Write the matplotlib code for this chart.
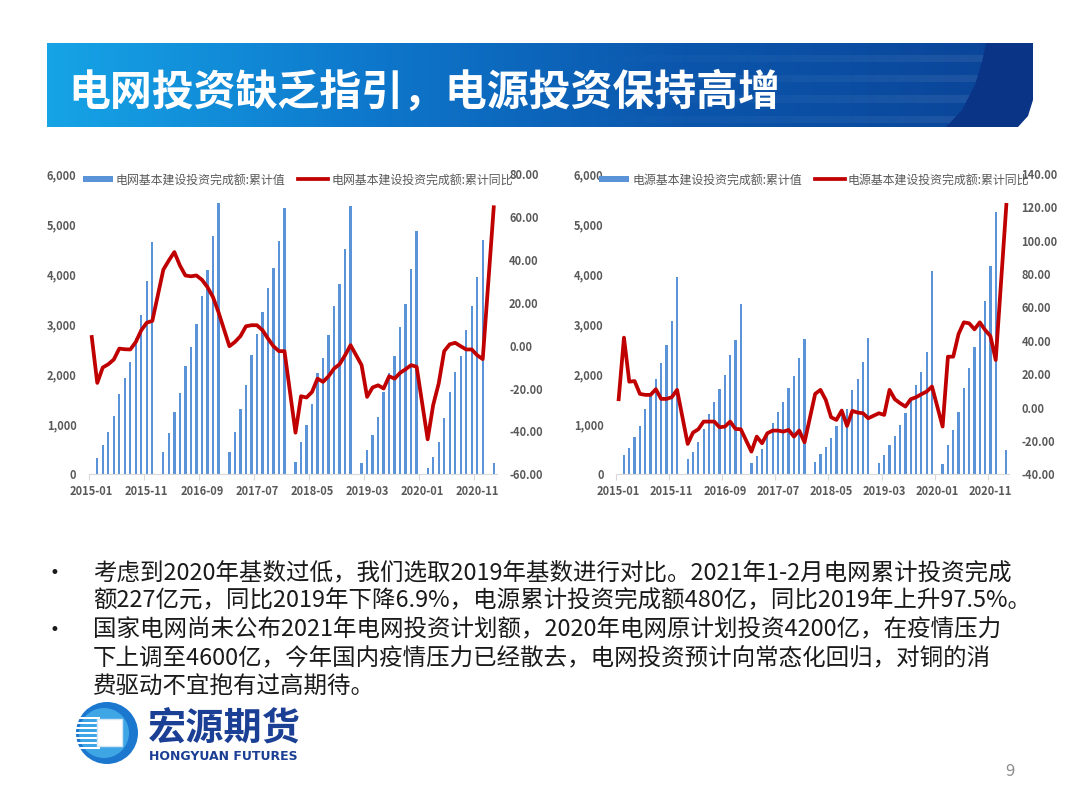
import matplotlib.pyplot as plt
import numpy as np
import pandas as pd
from matplotlib.patches import Polygon, Circle, Rectangle
from matplotlib.colors import LinearSegmentedColormap

plt.rcParams['font.family'] = ['Noto Sans CJK SC', 'DejaVu Sans']

# categories: monthly, 2015-01 .. 2021-02 (January has no cumulative data)
months = pd.date_range("2015-01-01", "2021-02-01", freq="MS").strftime("%Y-%m").tolist()
tick_idx = list(range(0, 74, 10))

# 电网基本建设投资完成额 累计值 (亿元)
grid_cum = [
    None, 320, 590, 855, 1165, 1600, 1920, 2250, 2720, 3190, 3860, 4640,
    None, 440, 820, 1240, 1633, 2167, 2553, 3000, 3553, 4087, 4767, 5420,
    None, 440, 840, 1300, 1787, 2387, 2807, 3240, 3720, 4120, 4653, 5320,
    None, 253, 640, 987, 1407, 2020, 2333, 2787, 3367, 3807, 4500, 5370,
    None, 233, 487, 787, 1140, 1640, 2020, 2367, 2953, 3407, 4107, 4855,
    None, 120, 353, 653, 1120, 1653, 2040, 2367, 2887, 3367, 3933, 4690,
    None, 227]
# 电网基本建设投资完成额 累计同比 (%)
grid_yoy = [
    4, -17.4, -10.2, -8.7, -6.5, -1.4, -1.7, -1.8, 1.7, 7.2, 10.7, 11.5,
    None, 35.4, 39.7, 43.6, 37.4, 32.7, 32.3, 32.7, 30.7, 27.3, 22.7, 15.7,
    None, -0.3, 1.7, 4.4, 9.0, 9.5, 9.5, 7.2, 3.3, -0.3, -2.6, -2.6,
    None, -40.6, -23.6, -24.2, -21.6, -15.4, -16.9, -14.3, -10.7, -8.7, -4.5, 0.2,
    None, -9.1, -23.9, -19.5, -18.5, -20.0, -14.3, -15.4, -12.7, -11.0, -9.1, -9.9,
    None, -43.7, -27.7, -17.7, -2.6, 0.6, 1.3, -0.3, -1.8, -1.8, -4.5, -6.3,
    None, 64.5]
# 电源基本建设投资完成额 累计值 (亿元)
power_cum = [
    None, 387, 533, 753, 967, 1307, 1600, 1907, 2220, 2587, 3070, 3936,
    None, 307, 453, 653, 900, 1207, 1447, 1700, 1987, 2387, 2687, 3408,
    None, 220, 373, 507, 767, 1033, 1253, 1453, 1720, 1967, 2320, 2700,
    None, 240, 407, 553, 720, 967, 1280, 1295, 1687, 1907, 2253, 2720,
    None, 225, 395, 590, 760, 987, 1233, 1500, 1787, 2053, 2453, 4060,
    None, 207, 587, 887, 1253, 1720, 2133, 2553, 2987, 3467, 4153, 5244,
    None, 480]
# 电源基本建设投资完成额 累计同比 (%)
power_yoy = [
    5, 41.9, 15.5, 15.9, 8.2, 7.6, 7.6, 11.0, 5.2, 5.2, 6.2, 10.6,
    None, -21.8, -15.0, -13.0, -8.4, -8.4, -8.4, -11.8, -11.4, -8.4, -12.8, -13.0,
    None, -26.4, -17.4, -21.4, -15.4, -13.8, -13.8, -14.4, -13.4, -17.4, -13.8, -20.8,
    None, 8.2, 10.6, 4.6, -5.8, -7.4, -1.8, -11.0, -2.0, -3.0, -3.4, -6.4,
    None, -3.4, -4.4, 10.6, 5.0, 2.6, 0.6, 5.0, 6.2, 8.0, 9.6, 12.6,
    None, -11.4, 30.5, 30.5, 44.1, 51.1, 50.5, 46.9, 51.1, 46.5, 42.9, 28.5,
    None, 121.5]

title = "电网投资缺乏指引，电源投资保持高增"
bullets = [
    ["考虑到2020年基数过低，我们选取2019年基数进行对比。2021年1-2月电网累计投资完成",
     "额227亿元，同比2019年下降6.9%，电源累计投资完成额480亿，同比2019年上升97.5%。"],
    ["国家电网尚未公布2021年电网投资计划额，2020年电网原计划投资4200亿，在疫情压力",
     "下上调至4600亿，今年国内疫情压力已经散去，电网投资预计向常态化回归，对铜的消",
     "费驱动不宜抱有过高期待。"],
]

BAR = '#5b93d8'
LINE = '#c00000'
GRAY = '#595959'
W, H = 1080, 810

fig = plt.figure(figsize=(10.8, 8.1), dpi=100)

# background layer in pixel coordinates
bg = fig.add_axes([0, 0, 1, 1], zorder=-1)
bg.set_xlim(0, W)
bg.set_ylim(H, 0)
bg.axis('off')

# title banner
grad = np.linspace(0, 1, 512)[None, :]
cm_banner = LinearSegmentedColormap.from_list('b', ['#16a4e6', '#0e78cc', '#0b56ac', '#0a4599'])
bg.imshow(grad, cmap=cm_banner, extent=[47, 1000, 127, 43], aspect='auto', zorder=1)
for y0, y1 in [(55, 62), (75, 82), (95, 103), (116, 123)]:
    rgba = np.ones((1, 256, 4))
    rgba[0, :, 3] = np.linspace(0, 0.08, 256)
    bg.imshow(rgba, extent=[560, 990, y1, y0], aspect='auto', zorder=2)
end = Polygon([(986, 43), (1033, 43), (1033, 100), (1028, 116), (1018, 127),
               (946, 127), (962, 110), (975, 85), (982, 62)],
              closed=True, fc='#0a3486', ec='none', zorder=3)
bg.add_patch(end)
bg.text(68, 93, title, color='white', fontsize=30.2, fontweight='bold',
        va='center', ha='left', zorder=4)

# bullet text
line_y = [573, 601, 630, 658.5, 687]
k = 0
for para in bullets:
    bg.text(49, line_y[k], "•", fontsize=12, va='center', ha='left', color='#1a1a1a',
            family=['DejaVu Sans'])
    for ln in para:
        bg.text(93, line_y[k], ln, fontsize=16.9, va='center', ha='left', color='#1a1a1a')
        k += 1

# logo
bg.add_patch(Circle((107, 733), 31, fc='#1c78cf', ec='none', zorder=2))
bg.add_patch(Circle((104, 733), 25, fc='#3fa6e6', ec='none', zorder=2))
for yy in range(717, 751, 5):
    bg.add_patch(Rectangle((76, yy), 24, 2.2, fc='white', ec='none', zorder=3))
bg.add_patch(Rectangle((97, 719), 25, 27, fc='white', ec='#d5e6f6', lw=1, zorder=4))
bg.text(148, 728, "宏源期货", fontsize=27.5, fontweight='bold', color='#1b3f94',
        va='center', ha='left')
bg.text(149, 756, "HONGYUAN FUTURES", fontsize=9, fontweight='bold', color='#1b3f94',
        va='center', ha='left', family=['DejaVu Sans'])
bg.text(1010, 772, "9", fontsize=12, color='#8c8c8c', va='center', ha='center')


def px_axes(x0, x1, ytop, ybot):
    return fig.add_axes([x0 / W, 1 - ybot / H, (x1 - x0) / W, (ybot - ytop) / H])


def draw_chart(box, cum, yoy, y2lim, y2step, lab_bar, lab_line, leg_x):
    ax = px_axes(*box)
    ax.set_facecolor('none')
    x = np.arange(len(months))
    bar_vals = np.array([np.nan if v is None else v for v in cum], dtype=float)
    bars = ax.bar(x, bar_vals, width=0.42, color=BAR, label=lab_bar)
    ax.set_xlim(-0.5, len(months) - 0.5)
    ax.set_ylim(0, 6000)
    ax.set_yticks(range(0, 6001, 1000))
    ax.set_yticklabels([f"{v:,}" for v in range(0, 6001, 1000)])
    ax.set_xticks(tick_idx)
    ax.set_xticklabels([months[i] for i in tick_idx])
    ax.set_xticks([i - 0.5 for i in tick_idx], minor=True)
    ax.tick_params(axis='x', which='major', length=0, pad=8, labelsize=8, labelcolor=GRAY)
    ax.tick_params(axis='x', which='minor', length=4, color='#d9d9d9', width=0.8)
    ax.tick_params(axis='y', length=0, pad=9, labelsize=8, labelcolor=GRAY)
    for s in ['top', 'right', 'left']:
        ax.spines[s].set_visible(False)
    ax.spines['bottom'].set_color('#d9d9d9')
    for t in ax.get_xticklabels() + ax.get_yticklabels():
        t.set_fontweight('bold')

    ax2 = ax.twinx()
    lx = [i for i, v in enumerate(yoy) if v is not None]
    ly = [v for v in yoy if v is not None]
    ln, = ax2.plot(lx, ly, color=LINE, lw=2.7, solid_joinstyle='round', label=lab_line)
    ax2.set_ylim(*y2lim)
    ticks2 = np.arange(y2lim[0], y2lim[1] + 0.1, y2step)
    ax2.set_yticks(ticks2)
    ax2.set_yticklabels([f"{v:.2f}" for v in ticks2])
    ax2.tick_params(axis='y', length=0, pad=9, labelsize=8, labelcolor=GRAY)
    for t in ax2.get_yticklabels():
        t.set_fontweight('bold')
    for s in ax2.spines.values():
        s.set_visible(False)
    ax2.legend([bars, ln], [lab_bar, lab_line], loc='center', ncol=2,
               bbox_to_anchor=(leg_x, 0.981), frameon=False, fontsize=8.6,
               handlelength=2.5, handleheight=0.5, handletextpad=0.25,
               columnspacing=1.1, borderpad=0, labelcolor=GRAY)
    return ax, ax2


draw_chart((89, 496.5, 174, 474.3), grid_cum, grid_yoy, (-60, 80), 20,
           "电网基本建设投资完成额:累计值", "电网基本建设投资完成额:累计同比", 0.512)
draw_chart((616, 1009, 174, 474.3), power_cum, power_yoy, (-40, 140), 20,
           "电源基本建设投资完成额:累计值", "电源基本建设投资完成额:累计同比", 0.505)

fig.savefig("out.png", dpi=100)
